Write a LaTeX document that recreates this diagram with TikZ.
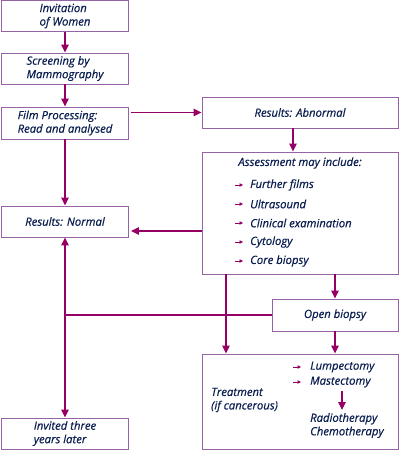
\documentclass[tikz,border=0pt]{standalone}
\usepackage{fontspec}
\setmainfont{Open Sans}[ItalicFeatures={FakeBold=0.6}]
\usetikzlibrary{arrows.meta}
\definecolor{boxline}{RGB}{150,100,165}
\definecolor{arrowcol}{RGB}{150,0,100}
\definecolor{textcol}{RGB}{10,30,80}
\begin{document}
\begin{tikzpicture}[x=1pt,y=-1pt,
    every node/.style={text=textcol,inner sep=0pt,font=\fontsize{11.3}{13.5}\selectfont\itshape},
    box/.style={draw=boxline,line width=0.9pt,minimum width=#1,minimum height=31pt,align=left},
    flow/.style={-{Triangle[length=8pt,width=7.5pt]},draw=arrowcol,fill=arrowcol,line width=1.3pt},
    bul/.style={-{Triangle[length=3.5pt,width=3.5pt]},draw=arrowcol,line width=0.9pt}]
    \useasboundingbox (0,0) rectangle (400,450);
    % left column
    \node [box=127pt] (inv) at (65,16) {Invitation\\of Women};
    \node [box=127pt] (scr) at (65,68.5) {Screening by\\Mammography};
    \node [box=127pt,minimum height=32pt] (film) at (65,123) {Film Processing:\\Read and analysed};
    \node [box=127pt] (normal) at (65,221.5) {Results: Normal};
    \node [box=127pt] (invited) at (65,433.5) {Invited three\\years later};
    % right column
    \node [box=196pt] (abn) at (300,112.5) {Results: Abnormal};
    \node [box=196pt,minimum height=122pt] (assess) at (300,213) {};
    \node [box=126pt,minimum height=32pt] (open) at (335,315) {Open biopsy};
    \node [box=196pt,minimum height=95pt] (treat) at (300,401.5) {};
    % assessment list
    \node (ahead) at (300,163) {Assessment may include:};
    \node [anchor=west] (a1) at (250,185) {Further films};
    \node [anchor=west] (a2) at (250,204) {Ultrasound};
    \node [anchor=west] (a3) at (250,223) {Clinical examination};
    \node [anchor=west] (a4) at (250,242) {Cytology};
    \node [anchor=west] (a5) at (250,261) {Core biopsy};
    \foreach \i in {a1,a2,a3,a4,a5}
      \draw [bul] ([xshift=-15pt]\i.west) -- ([xshift=-7pt]\i.west);
    % treatment
    \node [anchor=west,align=left] (tr) at (211,400) {Treatment\\(if cancerous)};
    \node [anchor=west] (lump) at (310,367) {Lumpectomy};
    \node [anchor=west] (mast) at (310,382) {Mastectomy};
    \draw [bul] ([xshift=-17pt]lump.west) -- ([xshift=-9pt]lump.west);
    \draw [bul] ([xshift=-17pt]mast.west) -- ([xshift=-9pt]mast.west);
    \node [anchor=north west,align=left] (rad) at (310,413) {Radiotherapy\\Chemotherapy};
    \draw [flow] (342,391) -- (342,410);
    % connectors
    \draw [flow] (inv) -- (scr);
    \draw [flow] (scr) -- (film);
    \draw [flow] (film) -- (normal);
    \draw [flow] ([xshift=2pt]film.east |- abn.west) -- (abn.west);
    \draw [flow] ([xshift=-7pt]abn.south) -- ([xshift=-7pt]assess.north);
    \draw [flow] (assess.west |- 0,231) -- ([xshift=2pt]normal.east |- 0,231);
    \draw [flow] (assess.south -| open) -- (open.north);
    \draw [flow] ([xshift=-74pt]assess.south) -- ([xshift=-74pt]treat.north);
    \draw [flow] (open) -- (treat.north -| open);
    \coordinate (j) at (normal.south |- open.west);
    \draw [draw=arrowcol,line width=1.3pt] (open.west) -- (j);
    \draw [flow] (j) -- (normal.south);
    \draw [flow] (j) -- (invited.north);
  \end{tikzpicture}
\end{document}
